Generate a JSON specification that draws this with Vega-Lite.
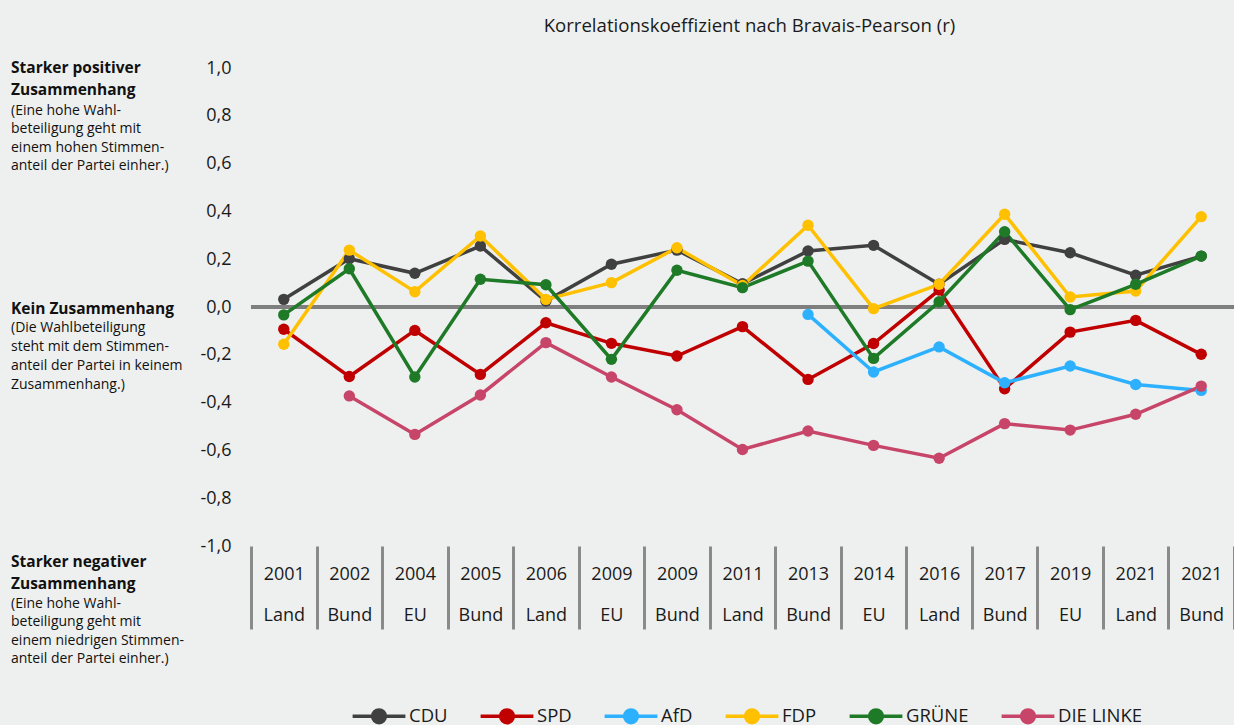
{
  "$schema": "https://vega.github.io/schema/vega-lite/v6.json",
  "background": "#EEF0EF",
  "padding": {"left": 11, "top": 17, "right": 0, "bottom": 0},
  "bounds": "flush",
  "spacing": 10,
  "config": {
    "font": "Open Sans",
    "view": {"stroke": null},
    "axis": {"labelFont": "Open Sans", "labelColor": "#1a1a1a"},
    "legend": {"labelFont": "Open Sans"}
  },
  "hconcat": [
    {
      "width": 230,
      "height": 478,
      "layer": [
        {
          "data": {"values": [{"anker": 1, "text": "Starker positiver\nZusammenhang"}]},
          "mark": {"type": "text", "align": "left", "baseline": "middle", "lineBreak": "\n", "fontWeight": "bold", "fontSize": 15.5, "lineHeight": 21.6, "dy": 0, "color": "#111111"},
          "encoding": {
            "x": {"datum": 0, "type": "quantitative", "scale": {"domain": [0, 1]}, "axis": null},
            "y": {"field": "anker", "type": "quantitative", "scale": {"domain": [-1, 1], "nice": false, "zero": false}, "axis": null},
            "text": {"field": "text", "type": "nominal"}
          }
        },
        {
          "data": {"values": [{"anker": 1, "text": "(Eine hohe Wahl-\nbeteiligung  geht mit\neinem hohen Stimmen-\nanteil der Partei einher.)"}]},
          "mark": {"type": "text", "align": "left", "baseline": "middle", "lineBreak": "\n", "fontWeight": "normal", "fontSize": 14, "lineHeight": 18.4, "dy": 43, "color": "#111111"},
          "encoding": {
            "x": {"datum": 0, "type": "quantitative"},
            "y": {"field": "anker", "type": "quantitative"},
            "text": {"field": "text", "type": "nominal"}
          }
        },
        {
          "data": {"values": [{"anker": 0, "text": "Kein Zusammenhang"}]},
          "mark": {"type": "text", "align": "left", "baseline": "middle", "lineBreak": "\n", "fontWeight": "bold", "fontSize": 15.5, "lineHeight": 21.6, "dy": 2, "color": "#111111"},
          "encoding": {
            "x": {"datum": 0, "type": "quantitative"},
            "y": {"field": "anker", "type": "quantitative"},
            "text": {"field": "text", "type": "nominal"}
          }
        },
        {
          "data": {"values": [{"anker": 0, "text": "(Die Wahlbeteiligung\nsteht mit dem Stimmen-\nanteil der Partei in keinem\nZusammenhang.)"}]},
          "mark": {"type": "text", "align": "left", "baseline": "middle", "lineBreak": "\n", "fontWeight": "normal", "fontSize": 14, "lineHeight": 18.9, "dy": 21, "color": "#111111"},
          "encoding": {
            "x": {"datum": 0, "type": "quantitative"},
            "y": {"field": "anker", "type": "quantitative"},
            "text": {"field": "text", "type": "nominal"}
          }
        },
        {
          "data": {"values": [{"anker": -1, "text": "Starker negativer\nZusammenhang"}]},
          "mark": {"type": "text", "align": "left", "baseline": "middle", "lineBreak": "\n", "fontWeight": "bold", "fontSize": 15.5, "lineHeight": 21.6, "dy": 16, "color": "#111111"},
          "encoding": {
            "x": {"datum": 0, "type": "quantitative"},
            "y": {"field": "anker", "type": "quantitative"},
            "text": {"field": "text", "type": "nominal"}
          }
        },
        {
          "data": {"values": [{"anker": -1, "text": "(Eine hohe Wahl-\nbeteiligung geht mit\neinem niedrigen Stimmen-\nanteil der Partei einher.)"}]},
          "mark": {"type": "text", "align": "left", "baseline": "middle", "lineBreak": "\n", "fontWeight": "normal", "fontSize": 14, "lineHeight": 18.4, "dy": 58, "color": "#111111"},
          "encoding": {
            "x": {"datum": 0, "type": "quantitative"},
            "y": {"field": "anker", "type": "quantitative"},
            "text": {"field": "text", "type": "nominal"}
          }
        }
      ]
    },
    {
      "width": 983,
      "height": 478,
      "title": {"text": "Korrelationskoeffizient nach Bravais-Pearson (r)", "fontSize": 18.6, "fontWeight": "normal", "font": "Open Sans", "color": "#1a1a1a", "anchor": "middle", "frame": "group", "baseline": "alphabetic", "offset": 8, "dx": 7},
      "data": {"values": [
        {"wahl": "2001 Land", "partei": "CDU", "r": 0.032},
        {"wahl": "2002 Bund", "partei": "CDU", "r": 0.202},
        {"wahl": "2004 EU", "partei": "CDU", "r": 0.141},
        {"wahl": "2005 Bund", "partei": "CDU", "r": 0.255},
        {"wahl": "2006 Land", "partei": "CDU", "r": 0.025},
        {"wahl": "2009 EU", "partei": "CDU", "r": 0.179},
        {"wahl": "2009 Bund", "partei": "CDU", "r": 0.238},
        {"wahl": "2011 Land", "partei": "CDU", "r": 0.097},
        {"wahl": "2013 Bund", "partei": "CDU", "r": 0.234},
        {"wahl": "2014 EU", "partei": "CDU", "r": 0.258},
        {"wahl": "2016 Land", "partei": "CDU", "r": 0.095},
        {"wahl": "2017 Bund", "partei": "CDU", "r": 0.283},
        {"wahl": "2019 EU", "partei": "CDU", "r": 0.227},
        {"wahl": "2021 Land", "partei": "CDU", "r": 0.133},
        {"wahl": "2021 Bund", "partei": "CDU", "r": 0.213},
        {"wahl": "2001 Land", "partei": "SPD", "r": -0.093},
        {"wahl": "2002 Bund", "partei": "SPD", "r": -0.291},
        {"wahl": "2004 EU", "partei": "SPD", "r": -0.098},
        {"wahl": "2005 Bund", "partei": "SPD", "r": -0.282},
        {"wahl": "2006 Land", "partei": "SPD", "r": -0.066},
        {"wahl": "2009 EU", "partei": "SPD", "r": -0.152},
        {"wahl": "2009 Bund", "partei": "SPD", "r": -0.205},
        {"wahl": "2011 Land", "partei": "SPD", "r": -0.082},
        {"wahl": "2013 Bund", "partei": "SPD", "r": -0.303},
        {"wahl": "2014 EU", "partei": "SPD", "r": -0.153},
        {"wahl": "2016 Land", "partei": "SPD", "r": 0.071},
        {"wahl": "2017 Bund", "partei": "SPD", "r": -0.342},
        {"wahl": "2019 EU", "partei": "SPD", "r": -0.105},
        {"wahl": "2021 Land", "partei": "SPD", "r": -0.056},
        {"wahl": "2021 Bund", "partei": "SPD", "r": -0.198},
        {"wahl": "2013 Bund", "partei": "AfD", "r": -0.031},
        {"wahl": "2014 EU", "partei": "AfD", "r": -0.272},
        {"wahl": "2016 Land", "partei": "AfD", "r": -0.167},
        {"wahl": "2017 Bund", "partei": "AfD", "r": -0.317},
        {"wahl": "2019 EU", "partei": "AfD", "r": -0.247},
        {"wahl": "2021 Land", "partei": "AfD", "r": -0.324},
        {"wahl": "2021 Bund", "partei": "AfD", "r": -0.349},
        {"wahl": "2001 Land", "partei": "FDP", "r": -0.156},
        {"wahl": "2002 Bund", "partei": "FDP", "r": 0.238},
        {"wahl": "2004 EU", "partei": "FDP", "r": 0.064},
        {"wahl": "2005 Bund", "partei": "FDP", "r": 0.297},
        {"wahl": "2006 Land", "partei": "FDP", "r": 0.032},
        {"wahl": "2009 EU", "partei": "FDP", "r": 0.102},
        {"wahl": "2009 Bund", "partei": "FDP", "r": 0.248},
        {"wahl": "2011 Land", "partei": "FDP", "r": 0.09},
        {"wahl": "2013 Bund", "partei": "FDP", "r": 0.342},
        {"wahl": "2014 EU", "partei": "FDP", "r": -0.007},
        {"wahl": "2016 Land", "partei": "FDP", "r": 0.095},
        {"wahl": "2017 Bund", "partei": "FDP", "r": 0.388},
        {"wahl": "2019 EU", "partei": "FDP", "r": 0.042},
        {"wahl": "2021 Land", "partei": "FDP", "r": 0.067},
        {"wahl": "2021 Bund", "partei": "FDP", "r": 0.378},
        {"wahl": "2001 Land", "partei": "GRÜNE", "r": -0.033},
        {"wahl": "2002 Bund", "partei": "GRÜNE", "r": 0.16},
        {"wahl": "2004 EU", "partei": "GRÜNE", "r": -0.293},
        {"wahl": "2005 Bund", "partei": "GRÜNE", "r": 0.116},
        {"wahl": "2006 Land", "partei": "GRÜNE", "r": 0.093},
        {"wahl": "2009 EU", "partei": "GRÜNE", "r": -0.219},
        {"wahl": "2009 Bund", "partei": "GRÜNE", "r": 0.154},
        {"wahl": "2011 Land", "partei": "GRÜNE", "r": 0.081},
        {"wahl": "2013 Bund", "partei": "GRÜNE", "r": 0.192},
        {"wahl": "2014 EU", "partei": "GRÜNE", "r": -0.215},
        {"wahl": "2016 Land", "partei": "GRÜNE", "r": 0.022},
        {"wahl": "2017 Bund", "partei": "GRÜNE", "r": 0.315},
        {"wahl": "2019 EU", "partei": "GRÜNE", "r": -0.011},
        {"wahl": "2021 Land", "partei": "GRÜNE", "r": 0.095},
        {"wahl": "2021 Bund", "partei": "GRÜNE", "r": 0.213},
        {"wahl": "2002 Bund", "partei": "DIE LINKE", "r": -0.372},
        {"wahl": "2004 EU", "partei": "DIE LINKE", "r": -0.533},
        {"wahl": "2005 Bund", "partei": "DIE LINKE", "r": -0.368},
        {"wahl": "2006 Land", "partei": "DIE LINKE", "r": -0.149},
        {"wahl": "2009 EU", "partei": "DIE LINKE", "r": -0.293},
        {"wahl": "2009 Bund", "partei": "DIE LINKE", "r": -0.43},
        {"wahl": "2011 Land", "partei": "DIE LINKE", "r": -0.596},
        {"wahl": "2013 Bund", "partei": "DIE LINKE", "r": -0.519},
        {"wahl": "2014 EU", "partei": "DIE LINKE", "r": -0.579},
        {"wahl": "2016 Land", "partei": "DIE LINKE", "r": -0.633},
        {"wahl": "2017 Bund", "partei": "DIE LINKE", "r": -0.488},
        {"wahl": "2019 EU", "partei": "DIE LINKE", "r": -0.515},
        {"wahl": "2021 Land", "partei": "DIE LINKE", "r": -0.449},
        {"wahl": "2021 Bund", "partei": "DIE LINKE", "r": -0.331}
      ]},
      "layer": [
        {
          "mark": {"type": "rule", "color": "#7F7F7F", "strokeWidth": 3},
          "encoding": {
            "y": {"datum": 0, "type": "quantitative", "scale": {"domain": [-1, 1], "nice": false, "zero": false},
              "axis": {"title": null, "domain": false, "ticks": false, "values": [-1, -0.8, -0.6, -0.4, -0.2, 0, 0.2, 0.4, 0.6, 0.8, 1],
                "labelExpr": "replace(replace(format(datum.value, '.1f'), '.', ','), '\u2212', '-')",
                "labelFontSize": 18, "labelPadding": 20, "gridColor": "#C8C8C8", "gridWidth": 1.3}}
          }
        },
        {
          "mark": {"type": "line", "strokeWidth": 3.5},
          "encoding": {
            "x": {"field": "wahl", "type": "nominal", "bandPosition": 0.5,
              "scale": {"type": "band", "paddingInner": 0, "paddingOuter": 0, "domain": ["2001 Land", "2002 Bund", "2004 EU", "2005 Bund", "2006 Land", "2009 EU", "2009 Bund", "2011 Land", "2013 Bund", "2014 EU", "2016 Land", "2017 Bund", "2019 EU", "2021 Land", "2021 Bund"]},
              "axis": {"title": null, "domain": false, "grid": false, "tickBand": "extent", "tickSize": 83, "tickWidth": 3, "tickColor": "#8A8A8A",
                "labelExpr": "split(datum.label, ' ')", "labelAngle": 0, "labelFontSize": 18, "labelLineHeight": 41, "labelPadding": -64, "labelBaseline": "top", "labelOverlap": false}},
            "y": {"field": "r", "type": "quantitative"},
            "color": {"field": "partei", "type": "nominal",
              "scale": {"domain": ["CDU", "SPD", "AfD", "FDP", "GRÜNE", "DIE LINKE"], "range": ["#404040", "#C00000", "#2DB1FF", "#FFC000", "#1F7A28", "#C8456A"]},
              "legend": {"orient": "none", "legendX": 358, "legendY": 638, "direction": "horizontal", "columns": 6, "title": null,
                "labelFontSize": 18.5, "labelColor": "#1a1a1a", "labelOffset": 20, "columnPadding": 25, "padding": 0,
                "symbolType": "M-3.3,0H3.3M0.8,0A0.8,0.8,0,1,1,-0.8,0A0.8,0.8,0,1,1,0.8,0Z", "symbolSize": 256, "symbolStrokeWidth": 3.5,
                "encode": {"symbols": {"update": {"fill": {"scale": "color", "field": "value"}, "stroke": {"scale": "color", "field": "value"}, "opacity": {"value": 1}}}}}}
          }
        },
        {
          "mark": {"type": "point", "filled": true, "size": 130, "opacity": 1},
          "encoding": {
            "x": {"field": "wahl", "type": "nominal", "bandPosition": 0.5},
            "y": {"field": "r", "type": "quantitative"},
            "color": {"field": "partei", "type": "nominal"}
          }
        }
      ]
    }
  ]
}
